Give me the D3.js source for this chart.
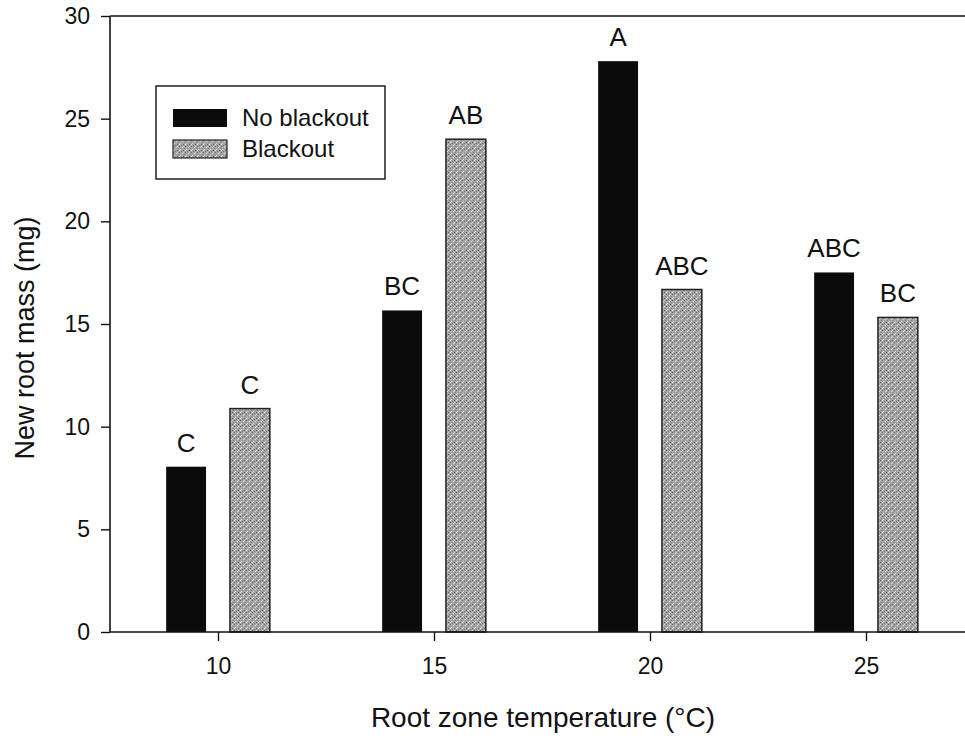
<!DOCTYPE html>
<html>
<head>
<meta charset="utf-8">
<script src="https://cdn.jsdelivr.net/npm/d3@7"></script>
<style>
	body { margin: 0; background: #fff; }
	text { font-family: "Liberation Sans", Arial, sans-serif; fill: #111; }
</style>
</head>
<body>
<div id="chart"></div>
<script>
// data
var temps = [10, 15, 20, 25];
var seriesNames = ['No blackout', 'Blackout'];
var noBlackout = [8.05, 15.66, 27.8, 17.51];
var blackout = [10.88, 24.0, 16.68, 15.32];
var noBlackoutLetters = ['C', 'BC', 'A', 'ABC'];
var blackoutLetters = ['C', 'AB', 'ABC', 'BC'];
var yTicks = [0, 5, 10, 15, 20, 25, 30];

var width = 965,
	height = 736;

var svg = d3.select('#chart').append('svg')
	.attr('width', width)
	.attr('height', height);

// stipple texture for the blackout bars
var defs = svg.append('defs');
var pat = defs.append('pattern')
	.attr('id', 'stipple')
	.attr('patternUnits', 'userSpaceOnUse')
	.attr('width', 6)
	.attr('height', 6);
pat.append('rect').attr('width', 6).attr('height', 6).attr('fill', '#a4a4a4');
[[0,0,'#666'],[3,1,'#e0e0e0'],[1,3,'#d8d8d8'],[4,4,'#5a5a5a'],[2,5,'#747474'],[5,2,'#858585'],[0,4,'#ececec'],[4,0,'#cfcfcf']]
	.forEach(function(p) {
		pat.append('rect').attr('x', p[0]).attr('y', p[1]).attr('width', 1).attr('height', 1).attr('fill', p[2]);
	});

var x = d3.scaleLinear()
	.domain([7.5, 27.5])
	.range([110, 974]);

var y = d3.scaleLinear()
	.domain([0, 30])
	.range([632, 16]);

// offset of each series within a temperature group (in temperature units)
var sub = d3.scaleBand()
	.domain(seriesNames)
	.range([-1.2, 1.2])
	.paddingInner(0.375)
	.paddingOuter(0);

var barW = x(sub.bandwidth()) - x(0);

var rows = [];
temps.forEach(function(t, i) {
	rows.push({ temp: t, series: 'No blackout', value: noBlackout[i], letter: noBlackoutLetters[i] });
	rows.push({ temp: t, series: 'Blackout', value: blackout[i], letter: blackoutLetters[i] });
});

// bars
svg.append('g')
	.selectAll('rect')
	.data(rows)
	.enter()
	.append('rect')
	.attr('x', function(d) { return x(d.temp + sub(d.series)); })
	.attr('y', function(d) { return y(d.value); })
	.attr('width', barW)
	.attr('height', function(d) { return y(0) - y(d.value); })
	.attr('fill', function(d) { return d.series === 'Blackout' ? 'url(#stipple)' : '#0b0b0b'; })
	.attr('stroke', function(d) { return d.series === 'Blackout' ? '#222' : 'none'; })
	.attr('stroke-width', 1.5);

// significance letters
svg.append('g')
	.selectAll('text')
	.data(rows)
	.enter()
	.append('text')
	.attr('x', function(d) { return x(d.temp + sub(d.series)) + barW / 2; })
	.attr('y', function(d) { return y(d.value) - 15; })
	.attr('text-anchor', 'middle')
	.style('font-size', '26px')
	.text(function(d) { return d.letter; });

// top border
svg.append('line')
	.attr('x1', 110).attr('x2', 974)
	.attr('y1', y(30)).attr('y2', y(30))
	.attr('stroke', '#111').attr('stroke-width', 1.6);

// axes
var yAxis = svg.append('g')
	.attr('transform', 'translate(110,0)')
	.call(d3.axisLeft(y).tickValues(yTicks).tickSize(9).tickPadding(11));

var xAxis = svg.append('g')
	.attr('transform', 'translate(0,' + y(0) + ')')
	.call(d3.axisBottom(x).tickValues(temps).tickSize(9).tickPadding(17));

[yAxis, xAxis].forEach(function(ax) {
	ax.select('.domain').attr('stroke', '#111').attr('stroke-width', 1.6);
	ax.selectAll('.tick line').attr('stroke', '#111').attr('stroke-width', 1.4);
	ax.selectAll('.tick text')
		.style('font-size', '23px')
		.style('font-family', '"Liberation Sans", Arial, sans-serif')
		.attr('fill', '#111');
});
yAxis.select('.domain').attr('d', 'M0,' + y(0) + 'V' + y(30));
xAxis.select('.domain').attr('d', 'M110,0H974');

// axis titles
svg.append('text')
	.attr('x', 543)
	.attr('y', 727)
	.attr('text-anchor', 'middle')
	.style('font-size', '28px')
	.text('Root zone temperature (°C)');

svg.append('text')
	.attr('transform', 'translate(34,338) rotate(-90)')
	.attr('text-anchor', 'middle')
	.style('font-size', '27px')
	.text('New root mass (mg)');

// legend
var legend = svg.append('g')
	.attr('transform', 'translate(156,86)');

legend.append('rect')
	.attr('width', 229)
	.attr('height', 93)
	.attr('fill', '#fff')
	.attr('stroke', '#111')
	.attr('stroke-width', 1.4);

var item = legend.selectAll('g.item')
	.data(seriesNames)
	.enter()
	.append('g')
	.classed('item', true)
	.attr('transform', function(d, i) { return 'translate(17,' + (23 + i * 31) + ')'; });

item.append('rect')
	.attr('width', 54)
	.attr('height', 18)
	.attr('fill', function(d) { return d === 'Blackout' ? 'url(#stipple)' : '#0b0b0b'; })
	.attr('stroke', function(d) { return d === 'Blackout' ? '#222' : 'none'; })
	.attr('stroke-width', 1.2);

item.append('text')
	.attr('x', 69)
	.attr('y', 17)
	.style('font-size', '24px')
	.text(function(d) { return d; });
</script>
</body>
</html>
